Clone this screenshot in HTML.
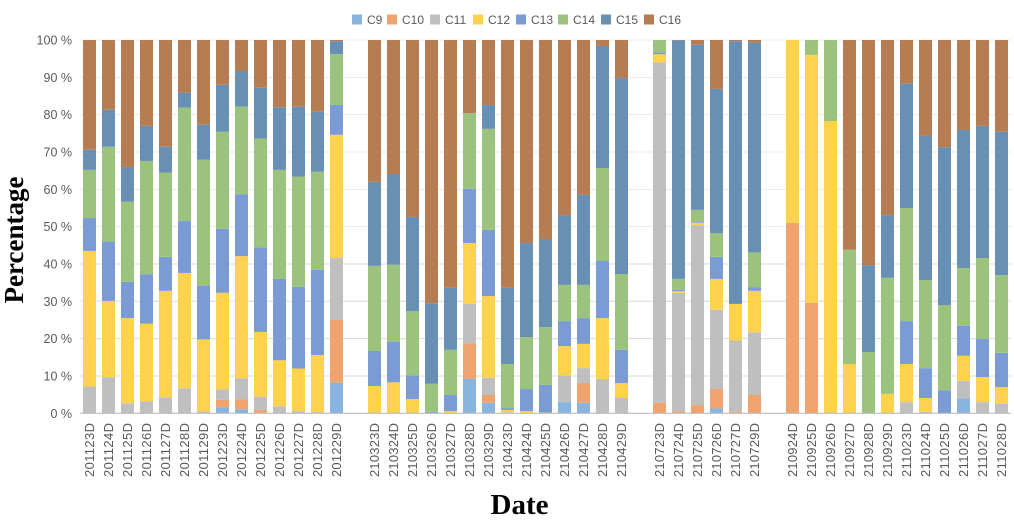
<!DOCTYPE html>
<html lang="en">
<head>
<meta charset="utf-8">
<title>Stacked percentage chart</title>
<style>
html,body{margin:0;padding:0;background:#fff;}
svg{display:block;}
text{font-family:"Liberation Sans",sans-serif;fill:#595959;}
.title{font-family:"Liberation Serif",serif;font-weight:bold;fill:#000;}
</style>
</head>
<body>
<svg id="chart" width="1014" height="520" viewBox="0 0 1014 520" xmlns="http://www.w3.org/2000/svg">
  <g id="grid"></g>
  <g id="bars"></g>
  <line x1="80" x2="1011" y1="413.3" y2="413.3" stroke="#bdbdbd" stroke-width="1.2"></line>
  <g id="ylabels"></g>
  <g id="xlabels"></g>
  <g id="legend"></g>
  <text class="title" transform="translate(23,240) rotate(-90)" text-anchor="middle" font-size="27">Percentage</text>
  <text class="title" x="519.5" y="514" text-anchor="middle" font-size="29">Date</text>
</svg>
<script>
const categories = [
  "201123D","201124D","201125D","201126D","201127D","201128D","201129D","201223D","201224D","201225D","201226D","201227D","201228D","201229D",
  "",
  "210323D","210324D","210325D","210326D","210327D","210328D","210329D","210423D","210424D","210425D","210426D","210427D","210428D","210429D",
  "",
  "210723D","210724D","210725D","210726D","210727D","210729D",
  "",
  "210924D","210925D","210926D","210927D","210928D","210929D","211023D","211024D","211025D","211026D","211027D","211028D"
];
const seriesNames = ["C9","C10","C11","C12","C13","C14","C15","C16"];
const c9 = [0,0,0,0,0,0,0,1.6,1.1,0,0,0,0,8.2, null,
  0,0,0,0,0,9.2,2.8,0,0,0,3,2.8,0,0, null,
  0,0,0,1.3,0,0, null,
  0,0,0,0,0,0,0,0,0,4,0,0];
const c10 = [0,0,0,0,0,0,0,2,2.7,.9,0,0,0,16.8, null,
  0,0,0,0,0,9.6,2.1,0,0,0,0,5.3,0,0, null,
  2.8,.5,2.2,5.2,.4,4.9, null,
  51,29.6,0,0,0,0,0,0,0,0,0,0];
const c11 = [7.2,9.7,2.7,3.2,4.3,6.7,.5,2.8,5.6,3.5,1.9,.6,.3,16.6, null,
  0,0,0,0,0,10.5,4.6,.3,0,0,7.2,4,9.2,4.1, null,
  91.2,31.8,48.2,21.2,19.1,16.8, null,
  0,0,0,0,0,0,3,.4,0,4.7,3,2.5];
const c12 = [36.3,20.4,22.8,20.8,28.5,30.9,19.3,25.9,32.7,17.4,12.3,11.4,15.3,33, null,
  7.3,8.3,3.8,0,.6,16.3,21.9,.6,.6,.2,7.8,6.5,16.3,4, null,
  2.2,.4,.6,8.3,9.8,11.1, null,
  49,66.4,78.3,13.2,0,5.2,10.2,3.7,0,6.7,6.7,4.5];
const c13 = [8.8,15.9,9.7,13.2,9.1,13.9,14.3,17.1,16.6,22.6,21.8,21.9,22.8,8, null,
  9.4,10.8,6.4,.4,4.3,14.5,17.7,.5,5.9,7.4,6.7,6.9,15.3,8.9, null,
  .5,.4,.2,5.9,0,.9, null,
  0,0,0,0,0,0,11.5,8,6.2,8,10.2,9.2];
const c14 = [12.9,25.4,21.5,30.4,22.6,30.4,33.8,26,23.5,29.2,29.2,29.5,26.3,13.6, null,
  22.8,20.7,17.2,7.5,12.1,20.3,27.1,11.8,13.9,15.5,9.7,8.9,24.9,20.3, null,
  3.3,2.9,3.3,6.4,0,9.4, null,
  0,4,21.7,30.6,16.4,31.1,30.3,23.6,22.8,15.5,21.7,20.8];
const c15 = [5.4,9.9,9.3,9.4,6.9,4,9.4,12.6,9.5,13.6,16.8,18.7,16.1,3.5, null,
  22.5,24.3,25.2,21.6,16.6,0,6.4,20.4,25.2,23.6,18.7,24.1,32.7,52.5, null,
  0,63.9,44.2,38.6,70.4,56.2, null,
  0,0,0,0,23.3,16.8,33.3,38.6,42.3,37,35.4,38.4];
const c16 = [29.4,18.7,34,23,28.6,14.1,22.7,12,8.3,12.8,18,17.9,19.2,.3, null,
  38,35.9,47.4,70.5,66.4,19.6,17.4,66.4,54.4,53.3,46.9,41.5,1.6,10.2, null,
  0,.1,1.3,13.1,.3,.7, null,
  0,0,0,56.2,60.3,46.9,11.7,25.7,28.7,24.1,23,24.6];
const yTicks = [0,10,20,30,40,50,60,70,80,90,100];

const seriesValues = [c9,c10,c11,c12,c13,c14,c15,c16];
const colors = ["#87b5e0","#f0a36c","#bfbfbf","#ffd24d","#7b9bd4","#9bc37d","#6890b5","#b77d52"];
const legendSwatchX = [352,387,430,473,516,558,601,644];

const NS = "http://www.w3.org/2000/svg";
const PLOT_LEFT = 80, PLOT_RIGHT = 1011, Y0 = 413.3, Y100 = 40, STEP = 19, BAR_W = 13;
const xScale = i => PLOT_LEFT + STEP * (i + 0.5);
const yScale = v => Y0 - (Y0 - Y100) * v / 100;

function make(tag, parent, attrs, txt) {
  const el = document.createElementNS(NS, tag);
  for (const k in attrs) el.setAttribute(k, attrs[k]);
  if (txt !== undefined) el.textContent = txt;
  parent.appendChild(el);
  return el;
}

const grid = document.getElementById("grid");
const ylabels = document.getElementById("ylabels");
yTicks.forEach(t => {
  const y = yScale(t);
  if (t > 0) {
    const ln = make("line", grid, {x1: PLOT_LEFT, x2: PLOT_RIGHT, y1: y, y2: y, stroke: t <= 40 ? "#d8d8d8" : "#e9e9e9", "stroke-width": 1});
    
    
  }
  const lb = make("text", ylabels, {x: 72, y: y + 4.5, "text-anchor": "end", "font-size": 12.5}, t + " %");
  
  
});

const bars = document.getElementById("bars");
const xlabels = document.getElementById("xlabels");
categories.forEach((cat, i) => {
  if (!cat) return;
  let cum = 0;
  seriesValues.forEach((vals, s) => {
    const v = vals[i];
    if (!v) return;
    const top = yScale(cum + v);
    const bottom = yScale(cum);
    const r = make("rect", bars, {x: xScale(i) - BAR_W / 2, y: top, width: BAR_W, height: bottom - top, fill: colors[s]});
    
    
    cum += v;
  });
  const t = make("text", xlabels, {
    transform: "translate(" + (xScale(i) + 4.5) + ",477) rotate(-90)",
    "font-size": 13, textLength: 54, lengthAdjust: "spacing"
  }, cat);
  
  
});

const legend = document.getElementById("legend");
seriesNames.forEach((name, s) => {
  const g = make("g", legend, {});
  
  
  const sw = make("rect", g, {x: legendSwatchX[s], y: 14.5, width: 10, height: 10, fill: colors[s]});
  
  
  const lt = make("text", g, {x: legendSwatchX[s] + 15, y: 24, "font-size": 12}, name);
  
  
});
</script>
</body>
</html>
